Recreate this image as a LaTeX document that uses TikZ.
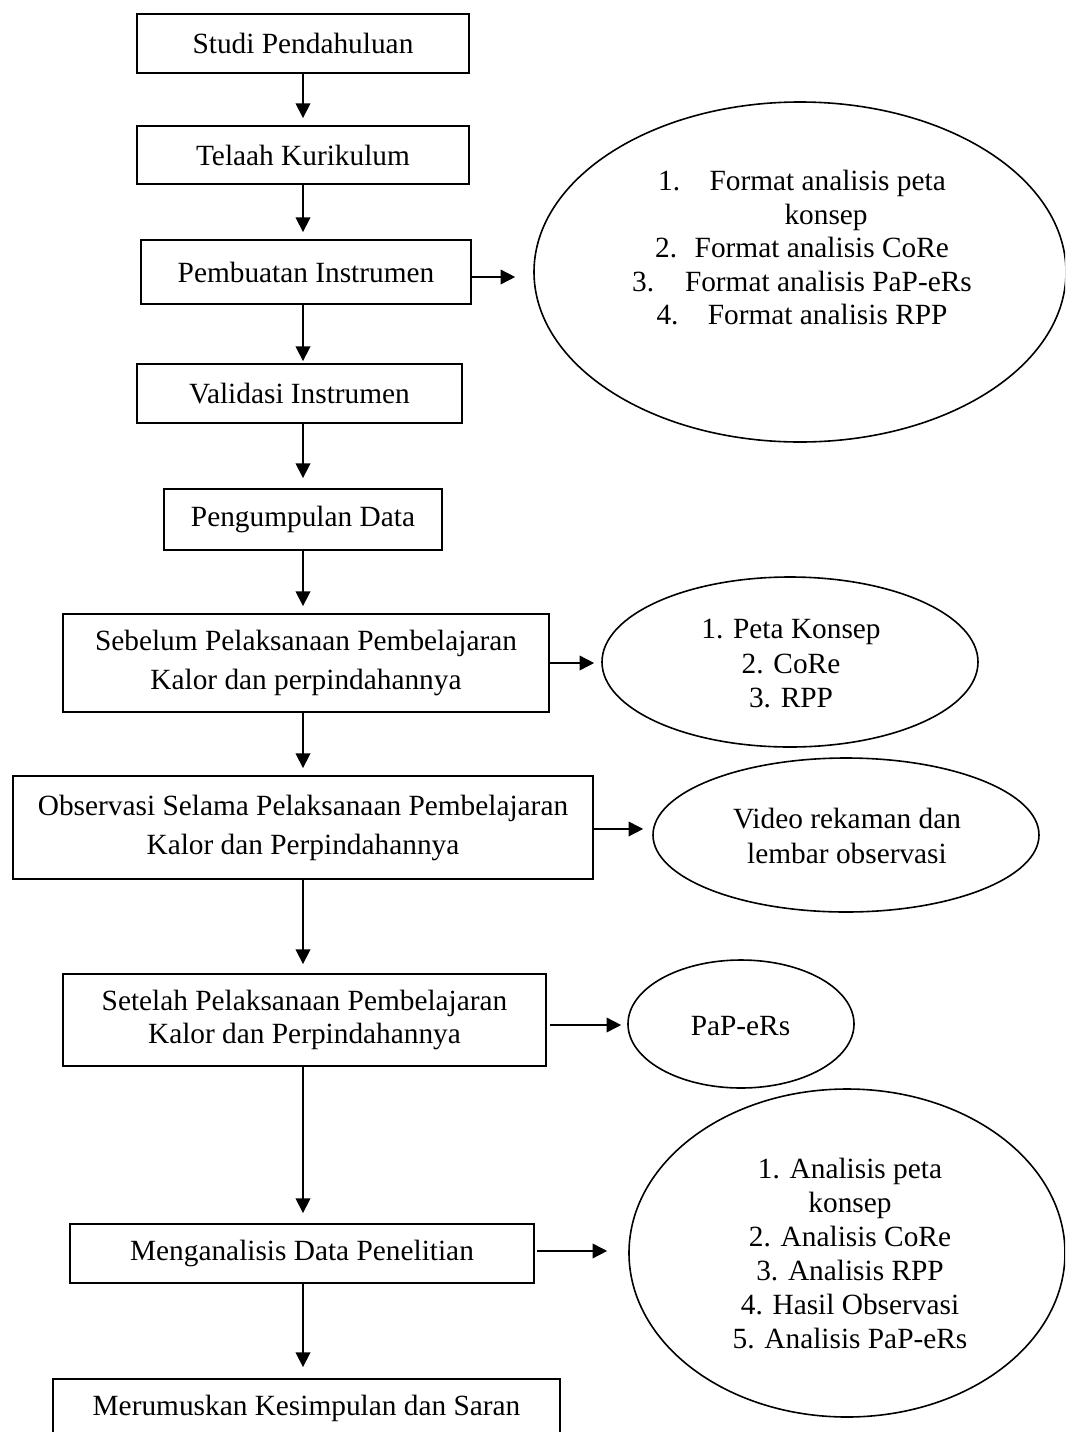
\documentclass[tikz,border=0pt]{standalone}
\usepackage{fontspec}
\setmainfont{Liberation Serif}
\usetikzlibrary{shapes.geometric,arrows.meta}
\begin{document}
\begin{tikzpicture}[x=0.75pt,y=-0.75pt,
  stepbox/.style={draw,line width=1.4pt,rectangle,inner sep=0pt,align=center,font=\fontsize{22}{29.25}\selectfont},
  oval/.style={draw,line width=1.2pt,ellipse,inner sep=0pt},
  otext/.style={anchor=north,inner sep=0pt,align=center},
  arr/.style={line width=1.2pt,-{Triangle[length=11pt,width=11pt]}}
]
\useasboundingbox (0,0) rectangle (1065,1432);
\clip (0,0) rectangle (1065,1432);

% boxes
\node[stepbox,minimum width=249pt,minimum height=44.25pt] (b1) at (303,43.5) {Studi Pendahuluan};
\node[stepbox,minimum width=249pt,minimum height=43.5pt] (b2) at (303,155) {Telaah Kurikulum};
\node[stepbox,minimum width=247.5pt,minimum height=48pt] (b3) at (306,272) {Pembuatan Instrumen};
\node[stepbox,minimum width=243.75pt,minimum height=44.25pt] (b4) at (299.5,393.5) {Validasi Instrumen};
\node[stepbox,minimum width=208.5pt,minimum height=45.75pt] (b5) at (303,519.5) {Pengumpulan Data};
\node[stepbox,minimum width=364.5pt,minimum height=73.5pt] (b6) at (306,663) {Sebelum Pelaksanaan Pembelajaran\\Kalor dan perpindahannya};
\node[stepbox,minimum width=435pt,minimum height=77.25pt] (b7) at (303,827.5) {Observasi Selama Pelaksanaan Pembelajaran\\Kalor dan Perpindahannya};
\node[stepbox,minimum width=362.25pt,minimum height=69pt,font=\fontsize{22}{24.75}\selectfont] (b8) at (304.5,1020) {Setelah Pelaksanaan Pembelajaran\\Kalor dan Perpindahannya};
\node[stepbox,minimum width=348pt,minimum height=44.25pt] (b9) at (302,1253.5) {Menganalisis Data Penelitian};
\node[stepbox,minimum width=380.25pt,minimum height=43.5pt] (b10) at (306.5,1408) {Merumuskan Kesimpulan dan Saran};

% ellipses
\node[oval,minimum width=399pt,minimum height=255pt] (e1) at (800,272) {};
\node[oval,minimum width=282pt,minimum height=127.5pt] (e2) at (790,662) {};
\node[oval,minimum width=289.5pt,minimum height=115.5pt] (e3) at (846,835) {};
\node[oval,minimum width=169.5pt,minimum height=96pt] (e4) at (741,1024) {};
\node[oval,minimum width=327pt,minimum height=246pt] (e5) at (847,1253) {};

% ellipse texts
\node[otext,font=\fontsize{22}{25.1}\selectfont] (t1) at (802,170) {1.\hspace{1em}Format analisis peta\\\hspace*{1.64em}konsep\\2.\hspace{0.6em}Format analisis CoRe\\3.\hspace{1.05em}Format analisis PaP-eRs\\4.\hspace{1em}Format analisis RPP};
\node[otext,font=\fontsize{22}{25.9}\selectfont] (t2) at (791,619) {1. Peta Konsep\\2. CoRe\\3. RPP};
\node[otext,font=\fontsize{22}{26.25}\selectfont] (t3) at (847,808) {Video rekaman dan\\lembar observasi};
\node[otext,font=\fontsize{22}{25.5}\selectfont] (t4) at (740.5,1016) {PaP-eRs};
\node[otext,font=\fontsize{22}{25.5}\selectfont] (t5) at (850,1158) {1. Analisis peta\\konsep\\2. Analisis CoRe\\3. Analisis RPP\\4. Hasil Observasi\\5. Analisis PaP-eRs};

% vertical arrows
\coordinate (ax) at (303,0);
\draw[arr,shorten >=5.25pt] (b1.south -| ax) -- (b2.north -| ax);
\draw[arr,shorten >=5.25pt] (b2.south -| ax) -- (b3.north -| ax);
\draw[arr,shorten >=1.5pt] (b3.south -| ax) -- (b4.north -| ax);
\draw[arr,shorten >=7.5pt] (b4.south -| ax) -- (b5.north -| ax);
\draw[arr,shorten >=5.25pt] (b5.south -| ax) -- (b6.north -| ax);
\draw[arr,shorten >=5.25pt] (b6.south -| ax) -- (b7.north -| ax);
\draw[arr,shorten >=6.75pt] (b7.south -| ax) -- (b8.north -| ax);
\draw[arr,shorten >=7.5pt] (b8.south -| ax) -- (b9.north -| ax);
\draw[arr,shorten >=8.25pt] (b9.south -| ax) -- (b10.north -| ax);

% horizontal arrows
\draw[arr,shorten >=13.5pt] ([yshift=-3.75pt]b3.east) -- ([yshift=-3.75pt]b3.east -| e1.west);
\draw[arr,shorten >=5.25pt] (b6.east) -- (b6.east -| e2.west);
\draw[arr,shorten >=6.75pt] ([yshift=-1.1pt]b7.east) -- ([yshift=-1.1pt]b7.east -| e3.west);
\draw[arr,shorten <=2.25pt,shorten >=4.5pt] ([yshift=-3.75pt]b8.east) -- ([yshift=-3.75pt]b8.east -| e4.west);
\draw[arr,shorten <=1.5pt,shorten >=15.75pt] ([yshift=1.9pt]b9.east) -- ([yshift=1.9pt]b9.east -| e5.west);
\end{tikzpicture}
\end{document}
